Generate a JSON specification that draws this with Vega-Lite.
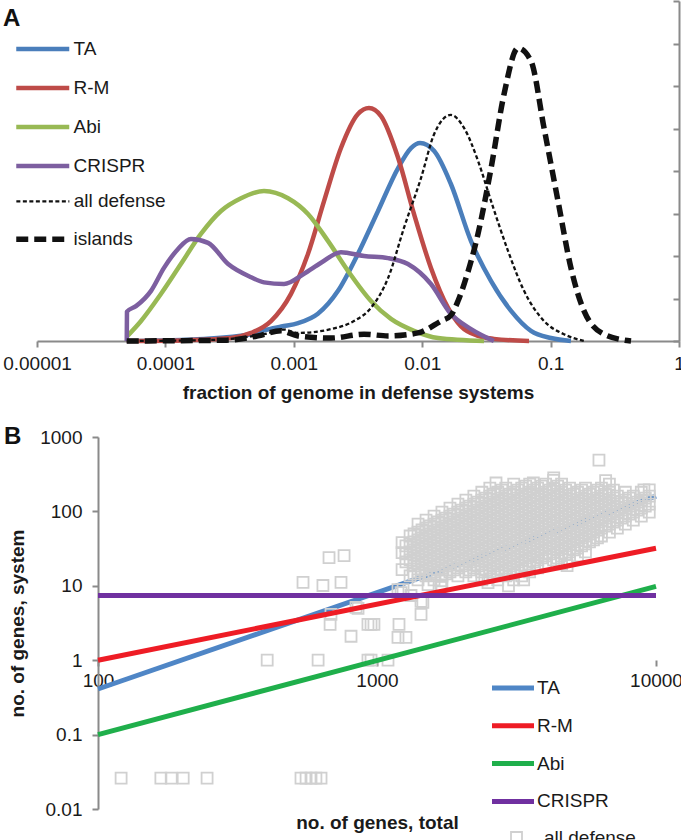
{
  "$schema": "https://vega.github.io/schema/vega-lite/v6.json",
  "background": "white",
  "padding": {"left": 2, "top": 0, "right": 0, "bottom": 0},
  "spacing": 23,
  "config": {
    "view": {"stroke": null},
    "font": "Liberation Sans",
    "axis": {"labelFont": "Liberation Sans", "labelFontSize": 19, "labelColor": "#1a1a1a", "titleFont": "Liberation Sans", "titleFontSize": 19, "titleFontWeight": "bold", "titleColor": "#1a1a1a", "domainColor": "#8a8a8a", "domainWidth": 2, "tickColor": "#8a8a8a", "tickWidth": 2, "tickSize": 6, "grid": false},
    "legend": {"labelFont": "Liberation Sans", "labelFontSize": 19, "labelColor": "#1a1a1a", "padding": 0}
  },
  "resolve": {"scale": {"color": "independent", "x": "independent", "y": "independent", "strokeDash": "independent", "opacity": "independent", "shape": "independent", "size": "independent"}, "legend": {"color": "independent", "strokeDash": "independent", "opacity": "independent", "shape": "independent", "size": "independent"}},
  "vconcat": [
    {
      "width": 642,
      "height": 340,
      "data": {"values": [
        {"series":"TA","frac":5e-5,"density":0},{"series":"TA","frac":2e-4,"density":0.05},{"series":"TA","frac":4.65e-4,"density":0.16},{"series":"TA","frac":5.86e-4,"density":0.25},{"series":"TA","frac":8e-4,"density":0.34},{"series":"TA","frac":1.08e-3,"density":0.42},{"series":"TA","frac":1.54e-3,"density":0.64},{"series":"TA","frac":2.21e-3,"density":1.18},{"series":"TA","frac":3.16e-3,"density":2.05},{"series":"TA","frac":4.53e-3,"density":3.06},{"series":"TA","frac":6.49e-3,"density":4.07},{"series":"TA","frac":8.18e-3,"density":4.54},{"series":"TA","frac":9.62e-3,"density":4.66},{"series":"TA","frac":1.24e-2,"density":4.47},{"series":"TA","frac":1.67e-2,"density":3.7},{"series":"TA","frac":2.4e-2,"density":2.35},{"series":"TA","frac":3.44e-2,"density":1.41},{"series":"TA","frac":4.92e-2,"density":0.71},{"series":"TA","frac":7.03e-2,"density":0.24},{"series":"TA","frac":0.1007,"density":0.07},{"series":"TA","frac":0.144,"density":0},
        {"series":"R-M","frac":5e-5,"density":0},{"series":"R-M","frac":1.5e-4,"density":0.02},{"series":"R-M","frac":3.24e-4,"density":0.07},{"series":"R-M","frac":4.65e-4,"density":0.19},{"series":"R-M","frac":6.64e-4,"density":0.47},{"series":"R-M","frac":9.51e-4,"density":1.11},{"series":"R-M","frac":1.29e-3,"density":2.05},{"series":"R-M","frac":1.72e-3,"density":3.29},{"series":"R-M","frac":2.33e-3,"density":4.54},{"series":"R-M","frac":3.16e-3,"density":5.34},{"series":"R-M","frac":3.85e-3,"density":5.48},{"series":"R-M","frac":4.78e-3,"density":5.29},{"series":"R-M","frac":6.49e-3,"density":4.31},{"series":"R-M","frac":8.63e-3,"density":2.99},{"series":"R-M","frac":1.17e-2,"density":1.72},{"series":"R-M","frac":1.59e-2,"density":0.78},{"series":"R-M","frac":2.0e-2,"density":0.35},{"series":"R-M","frac":2.72e-2,"density":0.12},{"series":"R-M","frac":3.62e-2,"density":0.05},{"series":"R-M","frac":6.79e-2,"density":0},
        {"series":"Abi","frac":5e-5,"density":0.1},{"series":"Abi","frac":6.46e-5,"density":0.47},{"series":"Abi","frac":9.25e-5,"density":1.11},{"series":"Abi","frac":1.32e-4,"density":1.81},{"series":"Abi","frac":1.89e-4,"density":2.52},{"series":"Abi","frac":2.71e-4,"density":3.06},{"series":"Abi","frac":3.88e-4,"density":3.36},{"series":"Abi","frac":5.86e-4,"density":3.53},{"series":"Abi","frac":9.02e-4,"density":3.36},{"series":"Abi","frac":1.29e-3,"density":2.99},{"series":"Abi","frac":1.85e-3,"density":2.35},{"series":"Abi","frac":2.64e-3,"density":1.65},{"series":"Abi","frac":3.99e-3,"density":0.94},{"series":"Abi","frac":5.71e-3,"density":0.52},{"series":"Abi","frac":8.63e-3,"density":0.24},{"series":"Abi","frac":1.33e-2,"density":0.07},{"series":"Abi","frac":3.03e-2,"density":0},
        {"series":"CRISPR","frac":5e-5,"density":0},{"series":"CRISPR","frac":5.02e-5,"density":0.69},{"series":"CRISPR","frac":5.9e-5,"density":0.82},{"series":"CRISPR","frac":7.73e-5,"density":1.18},{"series":"CRISPR","frac":9.75e-5,"density":1.72},{"series":"CRISPR","frac":1.25e-4,"density":2.16},{"series":"CRISPR","frac":1.58e-4,"density":2.4},{"series":"CRISPR","frac":2.15e-4,"density":2.31},{"series":"CRISPR","frac":3.08e-4,"density":1.81},{"series":"CRISPR","frac":4.65e-4,"density":1.5},{"series":"CRISPR","frac":5.86e-4,"density":1.38},{"series":"CRISPR","frac":8.39e-4,"density":1.34},{"series":"CRISPR","frac":1.2e-3,"density":1.58},{"series":"CRISPR","frac":1.63e-3,"density":1.84},{"series":"CRISPR","frac":2.33e-3,"density":2.09},{"series":"CRISPR","frac":3.52e-3,"density":2.0},{"series":"CRISPR","frac":5.42e-3,"density":1.95},{"series":"CRISPR","frac":7.74e-3,"density":1.81},{"series":"CRISPR","frac":1.17e-2,"density":1.34},{"series":"CRISPR","frac":1.67e-2,"density":0.64},{"series":"CRISPR","frac":2.4e-2,"density":0.28},{"series":"CRISPR","frac":3.62e-2,"density":0},
        {"series":"all defense","frac":5e-5,"density":0},{"series":"all defense","frac":2e-4,"density":0.02},{"series":"all defense","frac":4e-4,"density":0.08},{"series":"all defense","frac":5.86e-4,"density":0.16},{"series":"all defense","frac":8.39e-4,"density":0.27},{"series":"all defense","frac":1.08e-3,"density":0.19},{"series":"all defense","frac":1.95e-3,"density":0.28},{"series":"all defense","frac":2.94e-3,"density":0.47},{"series":"all defense","frac":3.99e-3,"density":0.78},{"series":"all defense","frac":5.42e-3,"density":1.48},{"series":"all defense","frac":7.21e-3,"density":2.66},{"series":"all defense","frac":9.8e-3,"density":3.84},{"series":"all defense","frac":1.24e-2,"density":4.87},{"series":"all defense","frac":1.67e-2,"density":5.32},{"series":"all defense","frac":2.12e-2,"density":5.01},{"series":"all defense","frac":2.72e-2,"density":4.24},{"series":"all defense","frac":3.44e-2,"density":3.29},{"series":"all defense","frac":4.66e-2,"density":2.12},{"series":"all defense","frac":6.21e-2,"density":1.18},{"series":"all defense","frac":8.89e-2,"density":0.47},{"series":"all defense","frac":0.127,"density":0.16},{"series":"all defense","frac":0.182,"density":0},
        {"series":"islands","frac":5e-5,"density":0},{"series":"islands","frac":3e-4,"density":0.02},{"series":"islands","frac":5.26e-4,"density":0.12},{"series":"islands","frac":7.94e-4,"density":0.24},{"series":"islands","frac":1.08e-3,"density":0.12},{"series":"islands","frac":1.95e-3,"density":0.07},{"series":"islands","frac":3.52e-3,"density":0.16},{"series":"islands","frac":5.42e-3,"density":0.12},{"series":"islands","frac":9.27e-3,"density":0.19},{"series":"islands","frac":1.4e-2,"density":0.47},{"series":"islands","frac":1.67e-2,"density":0.6},{"series":"islands","frac":1.9e-2,"density":0.94},{"series":"islands","frac":2.12e-2,"density":1.34},{"series":"islands","frac":2.72e-2,"density":2.52},{"series":"islands","frac":3.44e-2,"density":4.07},{"series":"islands","frac":4.34e-2,"density":5.81},{"series":"islands","frac":5.57e-2,"density":6.89},{"series":"islands","frac":7.03e-2,"density":6.59},{"series":"islands","frac":8.89e-2,"density":5.01},{"series":"islands","frac":0.1143,"density":3.29},{"series":"islands","frac":0.144,"density":1.72},{"series":"islands","frac":0.182,"density":0.71},{"series":"islands","frac":0.261,"density":0.16},{"series":"islands","frac":0.423,"density":0}
      ]},
      "encoding": {
        "x": {"field": "frac", "type": "quantitative", "scale": {"type": "log", "domain": [0.00001, 1], "nice": false},
              "axis": {"values": [0.00001, 0.0001, 0.001, 0.01, 0.1, 1], "format": "~f", "labelFlush": false, "labelOverlap": false, "labelPadding": 7, "title": "fraction of genome in defense systems", "titlePadding": 10}},
        "y": {"field": "density", "type": "quantitative", "scale": {"domain": [0, 8], "nice": false, "zero": true},
              "axis": {"orient": "right", "values": [0, 1, 2, 3, 4, 5, 6, 7, 8], "labels": false, "title": null, "tickSize": -6}}
      },
      "layer": [
        {"transform": [{"filter": {"field": "series", "oneOf": ["TA", "R-M", "Abi", "CRISPR"]}}],
         "mark": {"type": "line", "interpolate": "monotone", "strokeWidth": 4.5, "strokeJoin": "round"},
         "encoding": {"color": {"field": "series", "type": "nominal",
                  "scale": {"domain": ["TA", "R-M", "Abi", "CRISPR"], "range": ["#4A7EBB", "#BE4B48", "#98B954", "#7D5FA0"]},
                  "legend": {"orient": "none", "legendX": -23.25, "legendY": 18.9, "title": null, "symbolType": "stroke", "symbolSize": 2809, "symbolStrokeWidth": 4.5, "labelOffset": 1.75, "rowPadding": 0}}}},
        {"transform": [{"filter": {"field": "series", "equal": "all defense"}}],
         "mark": {"type": "line", "interpolate": "monotone", "strokeWidth": 2.3, "color": "#111111"},
         "encoding": {"strokeDash": {"field": "series", "type": "nominal", "scale": {"domain": ["all defense"], "range": [[4, 2.5]]},
                  "legend": {"orient": "none", "legendX": -22.15, "legendY": 172.35, "title": null, "symbolType": "stroke", "symbolSize": 2809, "symbolStrokeWidth": 2.3, "symbolStrokeColor": "#111111", "labelOffset": 2.85}}}},
        {"transform": [{"filter": {"field": "series", "equal": "islands"}}],
         "mark": {"type": "line", "interpolate": "monotone", "strokeWidth": 5.5, "strokeDash": [12, 6], "color": "#111111"},
         "encoding": {"opacity": {"field": "series", "type": "nominal", "scale": {"domain": ["islands"], "range": [1, 1]},
                  "legend": {"orient": "none", "legendX": -23.75, "legendY": 208.75, "title": null, "symbolType": "stroke", "symbolSize": 2809, "symbolStrokeWidth": 5.5, "symbolDash": [12, 6], "symbolStrokeColor": "#111111", "symbolOpacity": 1, "labelOffset": 1.25}}}},
        {"data": {"values": [{"panel": "A"}]},
         "mark": {"type": "text", "clip": false, "dx": -25, "fontSize": 24, "fontWeight": "bold", "font": "Liberation Sans", "align": "center", "baseline": "middle", "color": "#111111"},
         "encoding": {"x": {"datum": 0.00001, "type": "quantitative"}, "y": {"datum": 7.61, "type": "quantitative"}, "text": {"field": "panel", "type": "nominal"},
                      "size": {"field": "panel", "type": "nominal", "scale": {"domain": ["A"], "range": [24, 24]},
                               "legend": {"orient": "none", "legendX": -34, "legendY": 6, "title": "A", "titleFont": "Liberation Sans", "titleFontSize": 24, "titleFontWeight": "bold", "titleColor": "#111111", "titlePadding": 0, "symbolOpacity": 0, "labelOpacity": 0}}}}
      ]
    },
    {
      "width": 619,
      "height": 372,
      "data": {"values": [
        {"series":"TA","genes":100,"defense":0.41},{"series":"TA","genes":10000,"defense":160},
        {"series":"R-M","genes":100,"defense":1.0},{"series":"R-M","genes":10000,"defense":32},
        {"series":"Abi","genes":100,"defense":0.1},{"series":"Abi","genes":10000,"defense":9.8},
        {"series":"CRISPR","genes":100,"defense":7.4},{"series":"CRISPR","genes":10000,"defense":7.4}
      ]},
      "encoding": {
        "x": {"field": "genes", "type": "quantitative", "scale": {"type": "log", "domain": [60.44, 10000], "nice": false},
              "axis": {"values": [100, 1000, 10000], "format": "~f", "offset": -149, "domain": false, "labelPadding": 5, "labelFlush": false, "labelOverlap": false, "title": "no. of genes, total", "titleX": 340, "titleY": 162, "titleBaseline": "middle", "titleAlign": "center"}},
        "y": {"field": "defense", "type": "quantitative", "scale": {"type": "log", "domain": [0.01, 1000], "nice": false},
              "axis": {"values": [0.01, 0.1, 1, 10, 100, 1000], "format": "~f", "offset": -61, "labelPadding": 10, "labelOverlap": false, "title": "no. of genes, system", "titlePadding": 12}}
      },
      "layer": [
        {"data": {"values": [{}]},
         "mark": {"type": "rule", "color": "#8a8a8a", "strokeWidth": 2},
         "encoding": {"x": {"datum": 100, "type": "quantitative"}, "x2": {"datum": 10000}, "y": {"datum": 1, "type": "quantitative"}}},
        {"transform": [{"filter": {"field": "series", "equal": "TA"}}],
         "mark": {"type": "line", "strokeWidth": 5},
         "encoding": {"color": {"field": "series", "type": "nominal",
                  "scale": {"domain": ["TA", "R-M", "Abi", "CRISPR"], "range": ["#4F86C6", "#EE1C25", "#1FAF4B", "#7030A0"]},
                  "legend": {"orient": "none", "legendX": 452.5, "legendY": 227.5, "title": null, "symbolType": "stroke", "symbolSize": 1764, "symbolStrokeWidth": 5, "labelOffset": 0.5, "rowPadding": 3.8}}}},
        {"data": {"values": [
          {"genes":121,"defense":0.026},{"genes":168,"defense":0.026},{"genes":183,"defense":0.026},{"genes":202,"defense":0.026},{"genes":246,"defense":0.026},{"genes":534,"defense":0.026},{"genes":557,"defense":0.026},{"genes":580,"defense":0.026},{"genes":604,"defense":0.026},{"genes":630,"defense":0.026},
          {"genes":404,"defense":1},{"genes":615,"defense":1},{"genes":928,"defense":1},{"genes":952,"defense":1},{"genes":1095,"defense":1},
          {"genes":543,"defense":11.1},{"genes":640,"defense":10.1},{"genes":743,"defense":11.1},{"genes":673,"defense":23.9},{"genes":762,"defense":25.5},{"genes":684,"defense":4.13},{"genes":679,"defense":3.03},{"genes":855,"defense":4.97},{"genes":807,"defense":2.1},{"genes":928,"defense":3.03},{"genes":952,"defense":3.03},{"genes":975,"defense":3.03},{"genes":1199,"defense":3.03},{"genes":1189,"defense":2.03},{"genes":1270,"defense":2.03},{"genes":1438,"defense":4.13},{"genes":1438,"defense":6.17},{"genes":841,"defense":5.12},{"genes":1324,"defense":7.41},{"genes":1189,"defense":8.9},{"genes":1240,"defense":8.9},{"genes":1524,"defense":10.4},{"genes":1695,"defense":9.5},{"genes":1219,"defense":8.1},{"genes":1460,"defense":6.0},{"genes":1560,"defense":13.7},{"genes":1695,"defense":11.7},{"genes":2500,"defense":11},{"genes":2960,"defense":10},{"genes":3355,"defense":12},{"genes":3770,"defense":18.7},{"genes":4800,"defense":18.7},
          {"genes":2670,"defense":241},{"genes":4300,"defense":283},{"genes":3634,"defense":241},{"genes":6245,"defense":490},{"genes":6600,"defense":259},{"genes":9050,"defense":195},
          {"genes":1230,"defense":16.5},{"genes":1230,"defense":27.9},{"genes":1230,"defense":38},
          {"genes":1314,"defense":13.6},{"genes":1314,"defense":22.3},{"genes":1314,"defense":28.5},{"genes":1314,"defense":36.5},{"genes":1314,"defense":46.7},
          {"genes":1403,"defense":12},{"genes":1403,"defense":15.4},{"genes":1403,"defense":19.7},{"genes":1403,"defense":25.2},{"genes":1403,"defense":32.2},{"genes":1403,"defense":41.3},{"genes":1403,"defense":52.8},{"genes":1403,"defense":67.6},
          {"genes":1499,"defense":13.6},{"genes":1499,"defense":17.4},{"genes":1499,"defense":22.3},{"genes":1499,"defense":28.5},{"genes":1499,"defense":36.5},{"genes":1499,"defense":46.7},{"genes":1499,"defense":59.7},{"genes":1499,"defense":76.4},
          {"genes":1601,"defense":12},{"genes":1601,"defense":15.4},{"genes":1601,"defense":19.7},{"genes":1601,"defense":25.2},{"genes":1601,"defense":32.2},{"genes":1601,"defense":41.3},{"genes":1601,"defense":52.8},{"genes":1601,"defense":67.6},{"genes":1601,"defense":86.5},
          {"genes":1709,"defense":10.1},{"genes":1709,"defense":13.6},{"genes":1709,"defense":17.4},{"genes":1709,"defense":22.3},{"genes":1709,"defense":28.5},{"genes":1709,"defense":36.5},{"genes":1709,"defense":46.7},{"genes":1709,"defense":59.7},{"genes":1709,"defense":76.4},{"genes":1709,"defense":97.8},
          {"genes":1826,"defense":15.4},{"genes":1826,"defense":19.7},{"genes":1826,"defense":25.2},{"genes":1826,"defense":32.2},{"genes":1826,"defense":41.3},{"genes":1826,"defense":52.8},{"genes":1826,"defense":67.6},{"genes":1826,"defense":86.5},{"genes":1826,"defense":111},
          {"genes":1950,"defense":13.6},{"genes":1950,"defense":17.4},{"genes":1950,"defense":22.3},{"genes":1950,"defense":28.5},{"genes":1950,"defense":36.5},{"genes":1950,"defense":46.7},{"genes":1950,"defense":59.7},{"genes":1950,"defense":76.4},{"genes":1950,"defense":97.8},{"genes":1950,"defense":125},
          {"genes":2082,"defense":15.4},{"genes":2082,"defense":19.7},{"genes":2082,"defense":25.2},{"genes":2082,"defense":32.2},{"genes":2082,"defense":41.3},{"genes":2082,"defense":52.8},{"genes":2082,"defense":67.6},{"genes":2082,"defense":86.5},{"genes":2082,"defense":111},{"genes":2082,"defense":142},
          {"genes":2224,"defense":13.6},{"genes":2224,"defense":17.4},{"genes":2224,"defense":22.3},{"genes":2224,"defense":28.5},{"genes":2224,"defense":36.5},{"genes":2224,"defense":46.7},{"genes":2224,"defense":59.7},{"genes":2224,"defense":76.4},{"genes":2224,"defense":97.8},{"genes":2224,"defense":125},{"genes":2224,"defense":160},
          {"genes":2375,"defense":12},{"genes":2375,"defense":15.4},{"genes":2375,"defense":19.7},{"genes":2375,"defense":25.2},{"genes":2375,"defense":32.2},{"genes":2375,"defense":41.3},{"genes":2375,"defense":52.8},{"genes":2375,"defense":67.6},{"genes":2375,"defense":86.5},{"genes":2375,"defense":111},{"genes":2375,"defense":142},{"genes":2375,"defense":181},
          {"genes":2537,"defense":13.6},{"genes":2537,"defense":17.4},{"genes":2537,"defense":22.3},{"genes":2537,"defense":28.5},{"genes":2537,"defense":36.5},{"genes":2537,"defense":46.7},{"genes":2537,"defense":59.7},{"genes":2537,"defense":76.4},{"genes":2537,"defense":97.8},{"genes":2537,"defense":125},{"genes":2537,"defense":160},{"genes":2537,"defense":205},
          {"genes":2709,"defense":12},{"genes":2709,"defense":15.4},{"genes":2709,"defense":19.7},{"genes":2709,"defense":25.2},{"genes":2709,"defense":32.2},{"genes":2709,"defense":41.3},{"genes":2709,"defense":52.8},{"genes":2709,"defense":67.6},{"genes":2709,"defense":86.5},{"genes":2709,"defense":111},{"genes":2709,"defense":142},{"genes":2709,"defense":181},
          {"genes":2894,"defense":13.6},{"genes":2894,"defense":17.4},{"genes":2894,"defense":22.3},{"genes":2894,"defense":28.5},{"genes":2894,"defense":36.5},{"genes":2894,"defense":46.7},{"genes":2894,"defense":59.7},{"genes":2894,"defense":76.4},{"genes":2894,"defense":97.8},{"genes":2894,"defense":125},{"genes":2894,"defense":160},{"genes":2894,"defense":205},
          {"genes":3090,"defense":12},{"genes":3090,"defense":15.4},{"genes":3090,"defense":19.7},{"genes":3090,"defense":25.2},{"genes":3090,"defense":32.2},{"genes":3090,"defense":41.3},{"genes":3090,"defense":52.8},{"genes":3090,"defense":67.6},{"genes":3090,"defense":86.5},{"genes":3090,"defense":111},{"genes":3090,"defense":142},{"genes":3090,"defense":181},{"genes":3090,"defense":232},
          {"genes":3301,"defense":13.6},{"genes":3301,"defense":17.4},{"genes":3301,"defense":22.3},{"genes":3301,"defense":28.5},{"genes":3301,"defense":36.5},{"genes":3301,"defense":46.7},{"genes":3301,"defense":59.7},{"genes":3301,"defense":76.4},{"genes":3301,"defense":97.8},{"genes":3301,"defense":125},{"genes":3301,"defense":160},{"genes":3301,"defense":205},
          {"genes":3525,"defense":15.4},{"genes":3525,"defense":19.7},{"genes":3525,"defense":25.2},{"genes":3525,"defense":32.2},{"genes":3525,"defense":41.3},{"genes":3525,"defense":52.8},{"genes":3525,"defense":67.6},{"genes":3525,"defense":86.5},{"genes":3525,"defense":111},{"genes":3525,"defense":142},{"genes":3525,"defense":181},{"genes":3525,"defense":232},
          {"genes":3765,"defense":17.4},{"genes":3765,"defense":22.3},{"genes":3765,"defense":28.5},{"genes":3765,"defense":36.5},{"genes":3765,"defense":46.7},{"genes":3765,"defense":59.7},{"genes":3765,"defense":76.4},{"genes":3765,"defense":97.8},{"genes":3765,"defense":125},{"genes":3765,"defense":160},{"genes":3765,"defense":205},
          {"genes":4021,"defense":19.7},{"genes":4021,"defense":25.2},{"genes":4021,"defense":32.2},{"genes":4021,"defense":41.3},{"genes":4021,"defense":52.8},{"genes":4021,"defense":67.6},{"genes":4021,"defense":86.5},{"genes":4021,"defense":111},{"genes":4021,"defense":142},{"genes":4021,"defense":181},{"genes":4021,"defense":232},
          {"genes":4295,"defense":22.3},{"genes":4295,"defense":28.5},{"genes":4295,"defense":36.5},{"genes":4295,"defense":46.7},{"genes":4295,"defense":59.7},{"genes":4295,"defense":76.4},{"genes":4295,"defense":97.8},{"genes":4295,"defense":125},{"genes":4295,"defense":160},{"genes":4295,"defense":205},{"genes":4295,"defense":262},
          {"genes":4587,"defense":19.7},{"genes":4587,"defense":25.2},{"genes":4587,"defense":32.2},{"genes":4587,"defense":41.3},{"genes":4587,"defense":52.8},{"genes":4587,"defense":67.6},{"genes":4587,"defense":86.5},{"genes":4587,"defense":111},{"genes":4587,"defense":142},{"genes":4587,"defense":181},{"genes":4587,"defense":232},
          {"genes":4899,"defense":22.3},{"genes":4899,"defense":28.5},{"genes":4899,"defense":36.5},{"genes":4899,"defense":46.7},{"genes":4899,"defense":59.7},{"genes":4899,"defense":76.4},{"genes":4899,"defense":97.8},{"genes":4899,"defense":125},{"genes":4899,"defense":160},{"genes":4899,"defense":205},
          {"genes":5232,"defense":25.2},{"genes":5232,"defense":32.2},{"genes":5232,"defense":41.3},{"genes":5232,"defense":52.8},{"genes":5232,"defense":67.6},{"genes":5232,"defense":86.5},{"genes":5232,"defense":111},{"genes":5232,"defense":142},{"genes":5232,"defense":181},
          {"genes":5588,"defense":28.5},{"genes":5588,"defense":36.5},{"genes":5588,"defense":46.7},{"genes":5588,"defense":59.7},{"genes":5588,"defense":76.4},{"genes":5588,"defense":97.8},{"genes":5588,"defense":125},{"genes":5588,"defense":160},{"genes":5588,"defense":205},
          {"genes":5968,"defense":41.3},{"genes":5968,"defense":52.8},{"genes":5968,"defense":67.6},{"genes":5968,"defense":86.5},{"genes":5968,"defense":111},{"genes":5968,"defense":142},{"genes":5968,"defense":181},
          {"genes":6374,"defense":46.7},{"genes":6374,"defense":59.7},{"genes":6374,"defense":76.4},{"genes":6374,"defense":97.8},{"genes":6374,"defense":125},{"genes":6374,"defense":160},{"genes":6374,"defense":205},
          {"genes":6807,"defense":52.8},{"genes":6807,"defense":67.6},{"genes":6807,"defense":86.5},{"genes":6807,"defense":111},{"genes":6807,"defense":142},{"genes":6807,"defense":181},{"genes":6807,"defense":232},
          {"genes":7270,"defense":59.7},{"genes":7270,"defense":76.4},{"genes":7270,"defense":97.8},{"genes":7270,"defense":125},{"genes":7270,"defense":160},
          {"genes":7765,"defense":67.6},{"genes":7765,"defense":86.5},{"genes":7765,"defense":111},{"genes":7765,"defense":142},{"genes":7765,"defense":181},
          {"genes":8293,"defense":76.4},{"genes":8293,"defense":97.8},{"genes":8293,"defense":125},{"genes":8293,"defense":160},
          {"genes":8857,"defense":86.5},{"genes":8857,"defense":111},{"genes":8857,"defense":142},{"genes":8857,"defense":181},
          {"genes":9459,"defense":97.8},{"genes":9459,"defense":125},{"genes":9459,"defense":160},{"genes":9459,"defense":195},
          {"genes":1270,"defense":21},{"genes":1270,"defense":26.8},{"genes":1270,"defense":34.3},
          {"genes":1357,"defense":14.5},{"genes":1357,"defense":18.5},{"genes":1357,"defense":23.7},{"genes":1357,"defense":30.4},{"genes":1357,"defense":38.9},{"genes":1357,"defense":49.7},
          {"genes":1450,"defense":16.4},{"genes":1450,"defense":21},{"genes":1450,"defense":26.8},{"genes":1450,"defense":34.3},{"genes":1450,"defense":44},{"genes":1450,"defense":56.2},
          {"genes":1549,"defense":14.5},{"genes":1549,"defense":18.5},{"genes":1549,"defense":23.7},{"genes":1549,"defense":30.4},{"genes":1549,"defense":38.9},{"genes":1549,"defense":49.7},{"genes":1549,"defense":63.6},
          {"genes":1654,"defense":16.4},{"genes":1654,"defense":21},{"genes":1654,"defense":26.8},{"genes":1654,"defense":34.3},{"genes":1654,"defense":44},{"genes":1654,"defense":56.2},{"genes":1654,"defense":72},
          {"genes":1767,"defense":14.5},{"genes":1767,"defense":18.5},{"genes":1767,"defense":23.7},{"genes":1767,"defense":30.4},{"genes":1767,"defense":38.9},{"genes":1767,"defense":49.7},{"genes":1767,"defense":63.6},{"genes":1767,"defense":81.4},
          {"genes":1887,"defense":16.4},{"genes":1887,"defense":21},{"genes":1887,"defense":26.8},{"genes":1887,"defense":34.3},{"genes":1887,"defense":44},{"genes":1887,"defense":56.2},{"genes":1887,"defense":72},{"genes":1887,"defense":92},
          {"genes":2015,"defense":18.5},{"genes":2015,"defense":23.7},{"genes":2015,"defense":30.4},{"genes":2015,"defense":38.9},{"genes":2015,"defense":49.7},{"genes":2015,"defense":63.6},{"genes":2015,"defense":81.4},{"genes":2015,"defense":104},
          {"genes":2152,"defense":16.4},{"genes":2152,"defense":21},{"genes":2152,"defense":26.8},{"genes":2152,"defense":34.3},{"genes":2152,"defense":44},{"genes":2152,"defense":56.2},{"genes":2152,"defense":72},{"genes":2152,"defense":92},{"genes":2152,"defense":118},
          {"genes":2298,"defense":18.5},{"genes":2298,"defense":23.7},{"genes":2298,"defense":30.4},{"genes":2298,"defense":38.9},{"genes":2298,"defense":49.7},{"genes":2298,"defense":63.6},{"genes":2298,"defense":81.4},{"genes":2298,"defense":104},{"genes":2298,"defense":133},
          {"genes":2455,"defense":16.4},{"genes":2455,"defense":21},{"genes":2455,"defense":26.8},{"genes":2455,"defense":34.3},{"genes":2455,"defense":44},{"genes":2455,"defense":56.2},{"genes":2455,"defense":72},{"genes":2455,"defense":92},{"genes":2455,"defense":118},{"genes":2455,"defense":151},
          {"genes":2622,"defense":14.5},{"genes":2622,"defense":18.5},{"genes":2622,"defense":23.7},{"genes":2622,"defense":30.4},{"genes":2622,"defense":38.9},{"genes":2622,"defense":49.7},{"genes":2622,"defense":63.6},{"genes":2622,"defense":81.4},{"genes":2622,"defense":104},{"genes":2622,"defense":133},{"genes":2622,"defense":170},
          {"genes":2800,"defense":16.4},{"genes":2800,"defense":21},{"genes":2800,"defense":26.8},{"genes":2800,"defense":34.3},{"genes":2800,"defense":44},{"genes":2800,"defense":56.2},{"genes":2800,"defense":72},{"genes":2800,"defense":92},{"genes":2800,"defense":118},{"genes":2800,"defense":151},{"genes":2800,"defense":193},
          {"genes":2991,"defense":14.5},{"genes":2991,"defense":18.5},{"genes":2991,"defense":23.7},{"genes":2991,"defense":30.4},{"genes":2991,"defense":38.9},{"genes":2991,"defense":49.7},{"genes":2991,"defense":63.6},{"genes":2991,"defense":81.4},{"genes":2991,"defense":104},{"genes":2991,"defense":133},{"genes":2991,"defense":170},
          {"genes":3194,"defense":16.4},{"genes":3194,"defense":21},{"genes":3194,"defense":26.8},{"genes":3194,"defense":34.3},{"genes":3194,"defense":44},{"genes":3194,"defense":56.2},{"genes":3194,"defense":72},{"genes":3194,"defense":92},{"genes":3194,"defense":118},{"genes":3194,"defense":151},{"genes":3194,"defense":193},
          {"genes":3411,"defense":18.5},{"genes":3411,"defense":23.7},{"genes":3411,"defense":30.4},{"genes":3411,"defense":38.9},{"genes":3411,"defense":49.7},{"genes":3411,"defense":63.6},{"genes":3411,"defense":81.4},{"genes":3411,"defense":104},{"genes":3411,"defense":133},{"genes":3411,"defense":170},{"genes":3411,"defense":218},
          {"genes":3643,"defense":21},{"genes":3643,"defense":26.8},{"genes":3643,"defense":34.3},{"genes":3643,"defense":44},{"genes":3643,"defense":56.2},{"genes":3643,"defense":72},{"genes":3643,"defense":92},{"genes":3643,"defense":118},{"genes":3643,"defense":151},{"genes":3643,"defense":193},
          {"genes":3891,"defense":23.7},{"genes":3891,"defense":30.4},{"genes":3891,"defense":38.9},{"genes":3891,"defense":49.7},{"genes":3891,"defense":63.6},{"genes":3891,"defense":81.4},{"genes":3891,"defense":104},{"genes":3891,"defense":133},{"genes":3891,"defense":170},{"genes":3891,"defense":218},
          {"genes":4156,"defense":26.8},{"genes":4156,"defense":34.3},{"genes":4156,"defense":44},{"genes":4156,"defense":56.2},{"genes":4156,"defense":72},{"genes":4156,"defense":92},{"genes":4156,"defense":118},{"genes":4156,"defense":151},{"genes":4156,"defense":193},
          {"genes":4439,"defense":23.7},{"genes":4439,"defense":30.4},{"genes":4439,"defense":38.9},{"genes":4439,"defense":49.7},{"genes":4439,"defense":63.6},{"genes":4439,"defense":81.4},{"genes":4439,"defense":104},{"genes":4439,"defense":133},{"genes":4439,"defense":170},{"genes":4439,"defense":218},
          {"genes":4741,"defense":26.8},{"genes":4741,"defense":34.3},{"genes":4741,"defense":44},{"genes":4741,"defense":56.2},{"genes":4741,"defense":72},{"genes":4741,"defense":92},{"genes":4741,"defense":118},{"genes":4741,"defense":151},{"genes":4741,"defense":193},
          {"genes":5064,"defense":30.4},{"genes":5064,"defense":38.9},{"genes":5064,"defense":49.7},{"genes":5064,"defense":63.6},{"genes":5064,"defense":81.4},{"genes":5064,"defense":104},{"genes":5064,"defense":133},{"genes":5064,"defense":170},
          {"genes":5408,"defense":34.3},{"genes":5408,"defense":44},{"genes":5408,"defense":56.2},{"genes":5408,"defense":72},{"genes":5408,"defense":92},{"genes":5408,"defense":118},{"genes":5408,"defense":151},{"genes":5408,"defense":193},
          {"genes":5776,"defense":38.9},{"genes":5776,"defense":49.7},{"genes":5776,"defense":63.6},{"genes":5776,"defense":81.4},{"genes":5776,"defense":104},{"genes":5776,"defense":133},{"genes":5776,"defense":170},
          {"genes":6168,"defense":44},{"genes":6168,"defense":56.2},{"genes":6168,"defense":72},{"genes":6168,"defense":92},{"genes":6168,"defense":118},{"genes":6168,"defense":151},{"genes":6168,"defense":193},
          {"genes":6588,"defense":63.6},{"genes":6588,"defense":81.4},{"genes":6588,"defense":104},{"genes":6588,"defense":133},{"genes":6588,"defense":170},
          {"genes":7035,"defense":72},{"genes":7035,"defense":92},{"genes":7035,"defense":118},{"genes":7035,"defense":151},{"genes":7035,"defense":193},
          {"genes":7514,"defense":81.4},{"genes":7514,"defense":104},{"genes":7514,"defense":133},
          {"genes":8025,"defense":92},{"genes":8025,"defense":118},{"genes":8025,"defense":151},
          {"genes":8571,"defense":104},{"genes":8571,"defense":133},
          {"genes":9153,"defense":118},{"genes":9153,"defense":151}
        ]},
         "mark": {"type": "point", "filled": false, "size": 121, "strokeWidth": 1.8, "opacity": 1, "color": "#D0D0D0"},
         "encoding": {"shape": {"datum": "all defense", "type": "nominal", "scale": {"domain": ["all defense"], "range": ["square"]},
                  "legend": {"orient": "none", "legendX": 470, "legendY": 391, "title": null, "symbolSize": 121, "symbolStrokeWidth": 1.8, "symbolStrokeColor": "#D0D0D0", "symbolFillColor": "transparent", "labelOffset": 18}}}},
        {"transform": [{"filter": {"field": "series", "oneOf": ["R-M", "Abi", "CRISPR"]}}],
         "mark": {"type": "line", "strokeWidth": 5},
         "encoding": {"color": {"field": "series", "type": "nominal",
                  "scale": {"domain": ["TA", "R-M", "Abi", "CRISPR"], "range": ["#4F86C6", "#EE1C25", "#1FAF4B", "#7030A0"]},
                  "legend": {"orient": "none", "legendX": 452.5, "legendY": 227.5, "title": null, "symbolType": "stroke", "symbolSize": 1764, "symbolStrokeWidth": 5, "labelOffset": 0.5, "rowPadding": 3.8}}}},
        {"data": {"values": [{"panel": "B"}]},
         "mark": {"type": "text", "clip": false, "dx": -24.5, "dy": -1.5, "fontSize": 24, "fontWeight": "bold", "font": "Liberation Sans", "align": "center", "baseline": "middle", "color": "#111111"},
         "encoding": {"x": {"datum": 60.44, "type": "quantitative"}, "y": {"datum": 1000, "type": "quantitative"}, "text": {"field": "panel", "type": "nominal"},
                      "size": {"field": "panel", "type": "nominal", "scale": {"domain": ["B"], "range": [24, 24]},
                               "legend": {"orient": "none", "legendX": -33, "legendY": -11.8, "title": "B", "titleFont": "Liberation Sans", "titleFontSize": 24, "titleFontWeight": "bold", "titleColor": "#111111", "titlePadding": 0, "symbolOpacity": 0, "labelOpacity": 0}}}}
      ]
    }
  ]
}
